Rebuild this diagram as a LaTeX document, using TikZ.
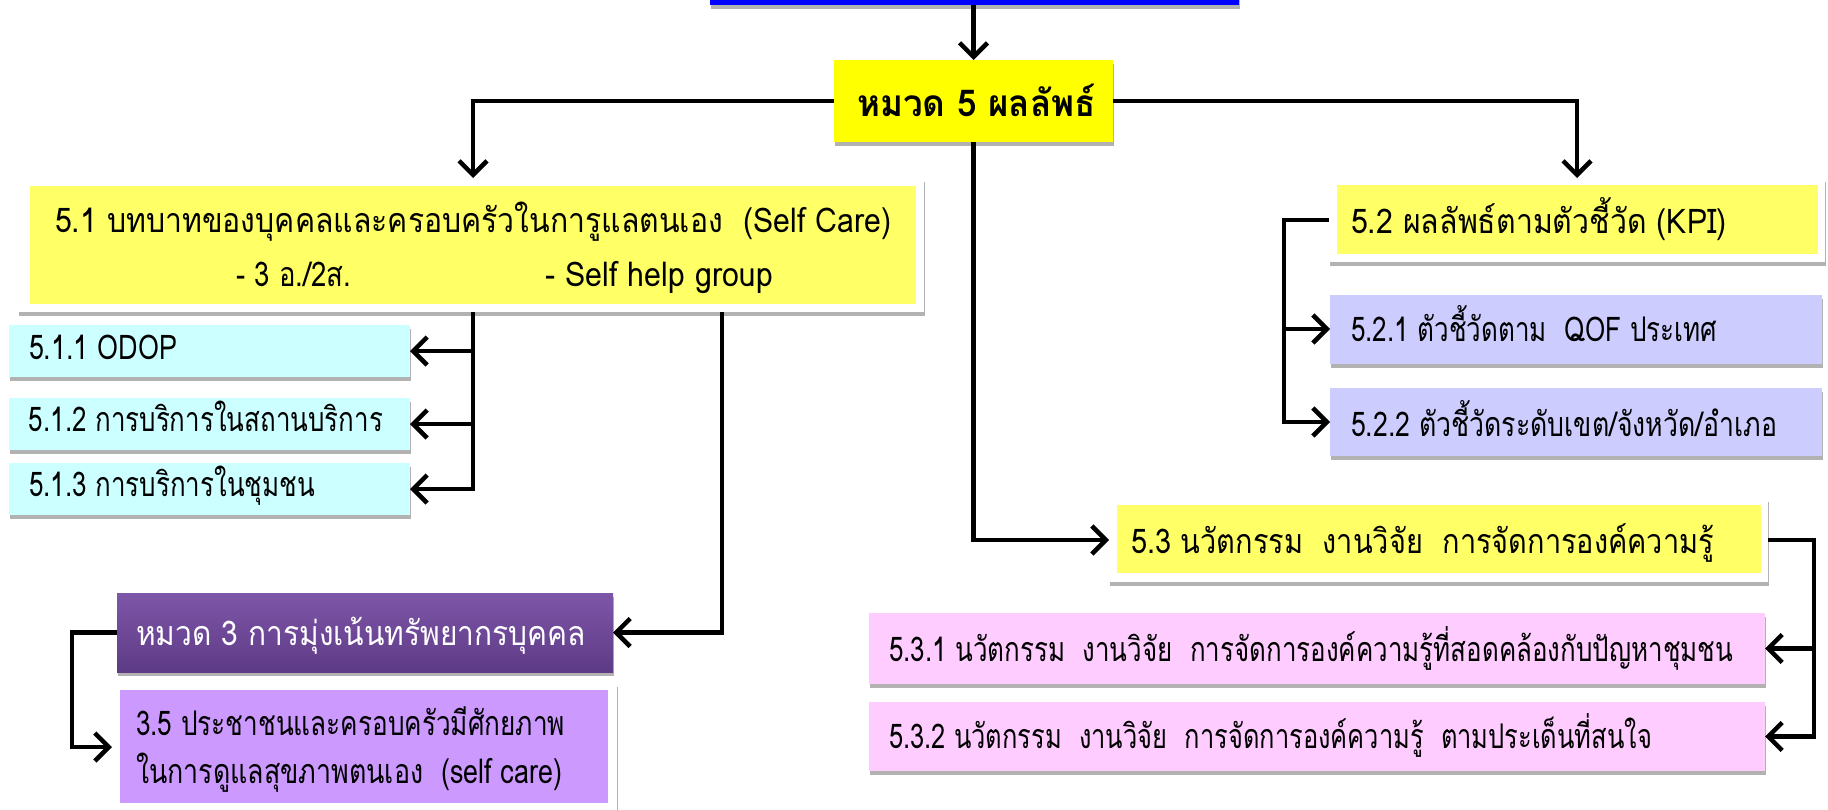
\documentclass[tikz,border=0pt]{standalone}
\usepackage{fontspec}
\usepackage{graphicx}
\newfontfamily\thai[Script=Thai]{Loma}
\usetikzlibrary{arrows.meta,shadows}
\newcommand{\fitw}[2]{\resizebox{#1pt}{\height}{#2}}
\definecolor{topblue}{HTML}{0000FF}
\definecolor{ybright}{HTML}{FFFF00}
\definecolor{ylight}{HTML}{FFFF66}
\definecolor{cyanbox}{HTML}{CCFFFF}
\definecolor{lavbox}{HTML}{CCCCFF}
\definecolor{pinkbox}{HTML}{FFCCFF}
\definecolor{purplebox}{HTML}{CC99FF}
\definecolor{ptop}{HTML}{7E56A8}
\definecolor{pbot}{HTML}{5E3B86}
\begin{document}
\begin{tikzpicture}[x=1pt,y=-1pt,
  shad/.style={drop shadow={shadow xshift=1pt,shadow yshift=-4pt,opacity=0.3,fill=black}},
  boxshape/.style={draw=none,inner sep=0pt,outer sep=0pt},
  wframe/.style={boxshape,shad,fill=white},
  txt/.style={inner sep=0pt,outer sep=0pt,font=\thai\fontsize{34}{40}\selectfont},
  conn/.style={line width=4.5pt,-{Straight Barb[length=14pt,width=28pt,line width=4.5pt]}}
]
\useasboundingbox (0,0) rectangle (1828,809);
% boxes
\node[boxshape,shad,fill=topblue,minimum width=529,minimum height=45] (top) at (974.5,-17.5) {};
\node[boxshape,shad,fill=ybright,minimum width=279,minimum height=82] (h5) at (973.5,101) {};
\node[wframe,minimum width=906,minimum height=134] (f51) at (471,245) {};
\node[boxshape,fill=ylight,minimum width=886,minimum height=118] (n51) at (473,245) {};
\node[boxshape,shad,fill=cyanbox,minimum width=401,minimum height=52] (n511) at (209.5,351) {};
\node[boxshape,shad,fill=cyanbox,minimum width=401,minimum height=52] (n512) at (209.5,424) {};
\node[boxshape,shad,fill=cyanbox,minimum width=401,minimum height=52] (n513) at (209.5,489) {};
\node[boxshape,shad,top color=ptop,bottom color=pbot,minimum width=496,minimum height=79] (h3) at (365,632.5) {};
\node[wframe,minimum width=505,minimum height=128] (f35) at (364.5,747) {};
\node[boxshape,fill=purplebox,minimum width=488,minimum height=113] (n35) at (364,746.5) {};
\node[wframe,minimum width=496,minimum height=84] (f52) at (1577,220) {};
\node[boxshape,fill=ylight,minimum width=481,minimum height=69] (n52) at (1577.5,219.5) {};
\node[boxshape,shad,fill=lavbox,minimum width=492,minimum height=69] (n521) at (1576,329) {};
\node[boxshape,shad,fill=lavbox,minimum width=492,minimum height=68] (n522) at (1576,422) {};
\node[wframe,minimum width=659,minimum height=84] (f53) at (1438.5,540) {};
\node[boxshape,fill=ylight,minimum width=644,minimum height=68] (n53) at (1439,539) {};
\node[boxshape,shad,fill=pinkbox,minimum width=896,minimum height=71] (n531) at (1317,648.5) {};
\node[boxshape,shad,fill=pinkbox,minimum width=896,minimum height=69] (n532) at (1317,736.5) {};
% texts
\node[txt,anchor=base west,font=\thai\bfseries\fontsize{37}{44}\selectfont] (t5) at (857,116.7) {\fitw{239}{หมวด 5 ผลลัพธ์}};
\node[txt,anchor=base west] (t51a) at (55,232.7) {\fitw{836}{5.1 บทบาทของบุคคลและครอบครัวในการูแลตนเอง\ \ (Self Care)}};
\node[txt,anchor=base west] (t51b) at (236,286.7) {\fitw{115}{- 3 อ./2ส.}};
\node[txt,anchor=base west] (t51c) at (545,286.7) {\fitw{228}{- Self help group}};
\node[txt,anchor=base west] (t511) at (29,359.3) {\fitw{148}{5.1.1 ODOP}};
\node[txt,anchor=base west] (t512) at (29,431.7) {\fitw{354}{5.1.2 การบริการในสถานบริการ}};
\node[txt,anchor=base west] (t513) at (29,496.7) {\fitw{286}{5.1.3 การบริการในชุมชน}};
\node[txt,anchor=base west,text=white] (t3) at (136,645) {\fitw{450}{หมวด 3 การมุ่งเน้นทรัพยากรบุคคล}};
\node[txt,anchor=base west] (t35a) at (136,735) {\fitw{429}{3.5 ประชาชนและครอบครัวมีศักยภาพ}};
\node[txt,anchor=base west] (t35b) at (136,783) {\fitw{426}{ในการดูแลสุขภาพตนเอง\ \ (self care)}};
\node[txt,anchor=base west] (t52) at (1351,233) {\fitw{376}{5.2 ผลลัพธ์ตามตัวชี้วัด (KPI)}};
\node[txt,anchor=base west] (t521) at (1351,341.7) {\fitw{366}{5.2.1 ตัวชี้วัดตาม\ \ QOF ประเทศ}};
\node[txt,anchor=base west] (t522) at (1351,436.7) {\fitw{426}{5.2.2 ตัวชี้วัดระดับเขต/จังหวัด/อำเภอ}};
\node[txt,anchor=base west] (t53) at (1131,553.3) {\fitw{583}{5.3 นวัตกรรม\ \ งานวิจัย\ \ การจัดการองค์ความรู้}};
\node[txt,anchor=base west] (t531) at (889,661.7) {\fitw{844}{5.3.1 นวัตกรรม\ \ งานวิจัย\ \ การจัดการองค์ความรู้ที่สอดคล้องกับปัญหาชุมชน}};
\node[txt,anchor=base west] (t532) at (889,748.3) {\fitw{763}{5.3.2 นวัตกรรม\ \ งานวิจัย\ \ การจัดการองค์ความรู้\ \ ตามประเด็นที่สนใจ}};
% connectors
\draw[conn] (h5.north |- top.south) -- (h5.north);
\draw[conn] (h5.west) -| (n51.north |- f51.north);
\draw[conn] (h5.east) -| (f52.north);
\draw[conn] (h5.south) |- (f53.west);
\draw[conn] (n51.south |- f51.south) |- (n511.east);
\draw[conn] (n51.south |- f51.south) |- (n512.east);
\draw[conn] (n51.south |- f51.south) |- (n513.east);
\draw[conn] ([xshift=249pt]n51.south |- f51.south) |- (h3.east);
\draw[conn] (h3.west) -- ++(-45,0) |- (f35.west);
\draw[conn] (f52.west) -- ++(-45,0) |- (n521.west);
\draw[conn] (f52.west) -- ++(-45,0) |- (n522.west);
\draw[conn] (f53.east) -- ++(46,0) |- (n531.east);
\draw[conn] (f53.east) -- ++(46,0) |- (n532.east);
\end{tikzpicture}
\end{document}
